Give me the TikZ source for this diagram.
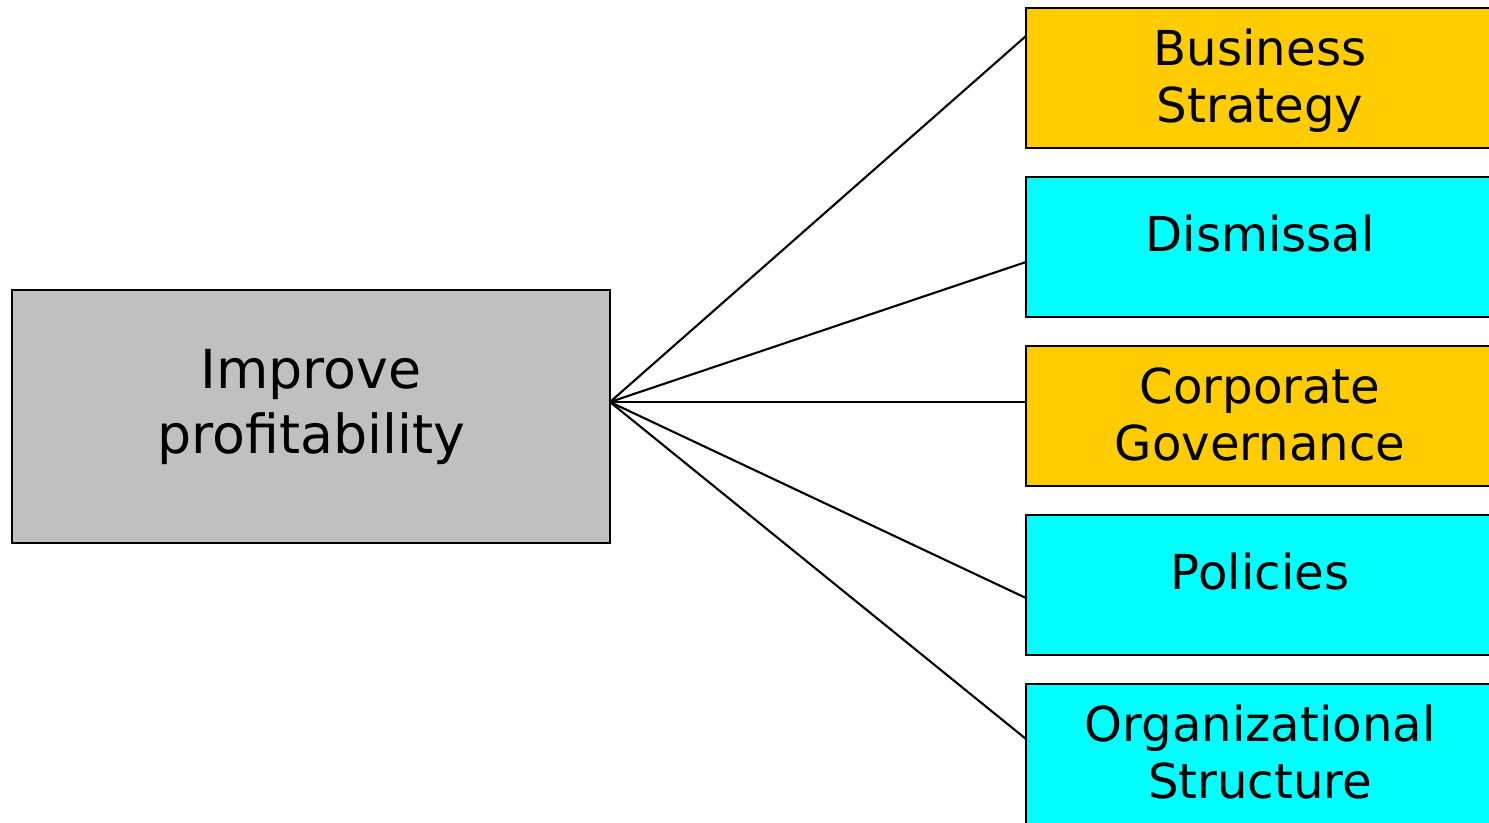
\documentclass[tikz,border=0pt]{standalone}
\usepackage{fontspec}
\setmainfont{DejaVu Sans}
\usepackage{tikz}

\definecolor{gold}{HTML}{FFCC00}
\definecolor{aqua}{HTML}{00FFFF}
\definecolor{silver}{HTML}{C0C0C0}

\tikzset{
  box/.style={draw=black, line width=0.6pt, minimum width=4.68cm, minimum height=1.40cm, inner sep=0pt},
  txt/.style={align=center, inner sep=0pt, font=\fontsize{13.7}{16.2}\selectfont},
  link/.style={line width=0.6pt}
}

\begin{document}
\begin{tikzpicture}
    \useasboundingbox (0,0) rectangle (14.89,-8.22);
    \begin{scope}
    \clip (0,0) rectangle (14.89,-8.22);

    % root
    \node[draw=black, line width=0.6pt, fill=silver, minimum width=5.98cm, minimum height=2.53cm] (root) at (3.11,-4.165) {};
    \node[txt, font=\fontsize{15.3}{18.4}\selectfont] (roottxt) at (3.11,-4.07) {Improve\\profitability};

    % right column
    \node[box, fill=gold] (strategy) at (12.60,-0.78) {};
    \node[box, fill=aqua] (dismissal) at (12.60,-2.47) {};
    \node[box, fill=gold] (governance) at (12.60,-4.16) {};
    \node[box, fill=aqua] (policies) at (12.60,-5.85) {};
    \node[box, fill=aqua] (structure) at (12.60,-7.54) {};

    \node[txt] (strategytxt) at (12.60,-0.805) {Business\\Strategy};
    \node[txt] (dismissaltxt) at (12.60,-2.34) {Dismissal};
    \node[txt] (governancetxt) at (12.60,-4.14) {Corporate\\Governance};
    \node[txt] (policiestxt) at (12.60,-5.72) {Policies};
    \node[txt] (structuretxt) at (12.60,-7.525) {Organizational\\Structure};

    % connectors
    \coordinate (hub) at (6.10,-4.02);
    \coordinate (c1) at (10.26,-0.36);
    \coordinate (c2) at (10.26,-2.62);
    \coordinate (c3) at (10.26,-4.02);
    \coordinate (c4) at (10.26,-5.98);
    \coordinate (c5) at (10.26,-7.39);
    \draw[link] (hub) -- (c1);
    \draw[link] (hub) -- (c2);
    \draw[link] (hub) -- (c3);
    \draw[link] (hub) -- (c4);
    \draw[link] (hub) -- (c5);
    \end{scope}
\end{tikzpicture}
\end{document}
